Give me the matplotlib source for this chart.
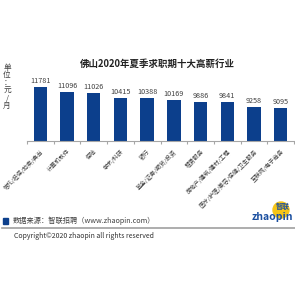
import matplotlib.pyplot as plt
from matplotlib.patches import Circle, Rectangle
from matplotlib.lines import Line2D

plt.rcParams['font.family'] = ['Noto Sans CJK SC', 'DejaVu Sans']

hangye = ['信托/担保/拍卖/典当', '计算机软件', '保险', '学术/科研', '银行',
          '基金/证券/期货/投资', '租赁服务', '房地产/建筑/建材/工程',
          '医疗/护理/美容/保健/卫生服务', '互联网/电子商务']
xinzi = [11781, 11096, 11026, 10415, 10388, 10169, 9886, 9841, 9258, 9095]

W = 295.0


def fx(x):
    return x / W


def fy(y):
    return 1 - y / W


fig = plt.figure(figsize=(2.95, 2.95), dpi=100)
ax = fig.add_axes([fx(27), fy(141.3), 267 / W, 64.3 / W])

pos = list(range(len(xinzi)))
ax.bar(pos, xinzi, width=0.5, color='#0c3f8c', zorder=2)
for i, v in enumerate(xinzi):
    ax.text(i, v + 250, str(v), ha='center', va='bottom', fontsize=5.2, color='#404040')

ax.set_xlim(-0.5, 9.5)
ax.set_ylim(5000, 13000)
ax.set_yticks([])
for s in ['top', 'right', 'left']:
    ax.spines[s].set_visible(False)
ax.spines['bottom'].set_color('#a6a6a6')
ax.spines['bottom'].set_linewidth(0.8)

ax.set_xticks([p - 0.5 for p in pos] + [9.5], minor=True)
ax.tick_params(axis='x', which='minor', length=2.5, color='#a6a6a6', width=0.8)
ax.set_xticks(pos)
ax.set_xticklabels(hangye, rotation=45, ha='right', va='top', rotation_mode='anchor',
                   fontsize=4.2, color='#404040')
ax.tick_params(axis='x', which='major', length=0, pad=5)

# title and unit
fig.text(fx(157), fy(64), '佛山2020年夏季求职期十大高薪行业', ha='center', va='center',
         fontsize=6.8, fontweight='bold', color='#222222')
fig.text(fx(7), fy(87), '单\n位\n：\n元\n/\n月', ha='center', va='center', fontsize=5.5,
         color='#404040', linespacing=0.95)

# legend / source
fig.patches.append(Rectangle((fx(2.5), fy(223.5)), 5.5 / W, 5.5 / W, transform=fig.transFigure,
                             color='#0c3f8c'))
fig.text(fx(13), fy(220.5), '数据来源：智联招聘（www.zhaopin.com）', ha='left', va='center',
         fontsize=5.2, color='#404040')
fig.lines.append(Line2D([fx(2), fx(295)], [fy(227.5), fy(227.5)], transform=fig.transFigure,
                        color='#a0a0a0', linewidth=1.2))
fig.text(fx(14), fy(235.5), 'Copyright©2020 zhaopin all rights reserved', ha='left', va='center',
         fontsize=5, color='#303030')

# logo
fig.patches.append(Circle((fx(281), fy(210)), 8 / W, transform=fig.transFigure, color='#f5c518'))
fig.text(fx(283), fy(206), '智联', ha='center', va='center', fontsize=5, fontweight='bold',
         color='#1a4fa0')
fig.text(fx(252), fy(217), 'zhaopin', ha='left', va='center', fontsize=7.5,
         fontweight='bold', style='italic', color='#1a4fa0')

fig.savefig('out.png', dpi=100, facecolor='white')
